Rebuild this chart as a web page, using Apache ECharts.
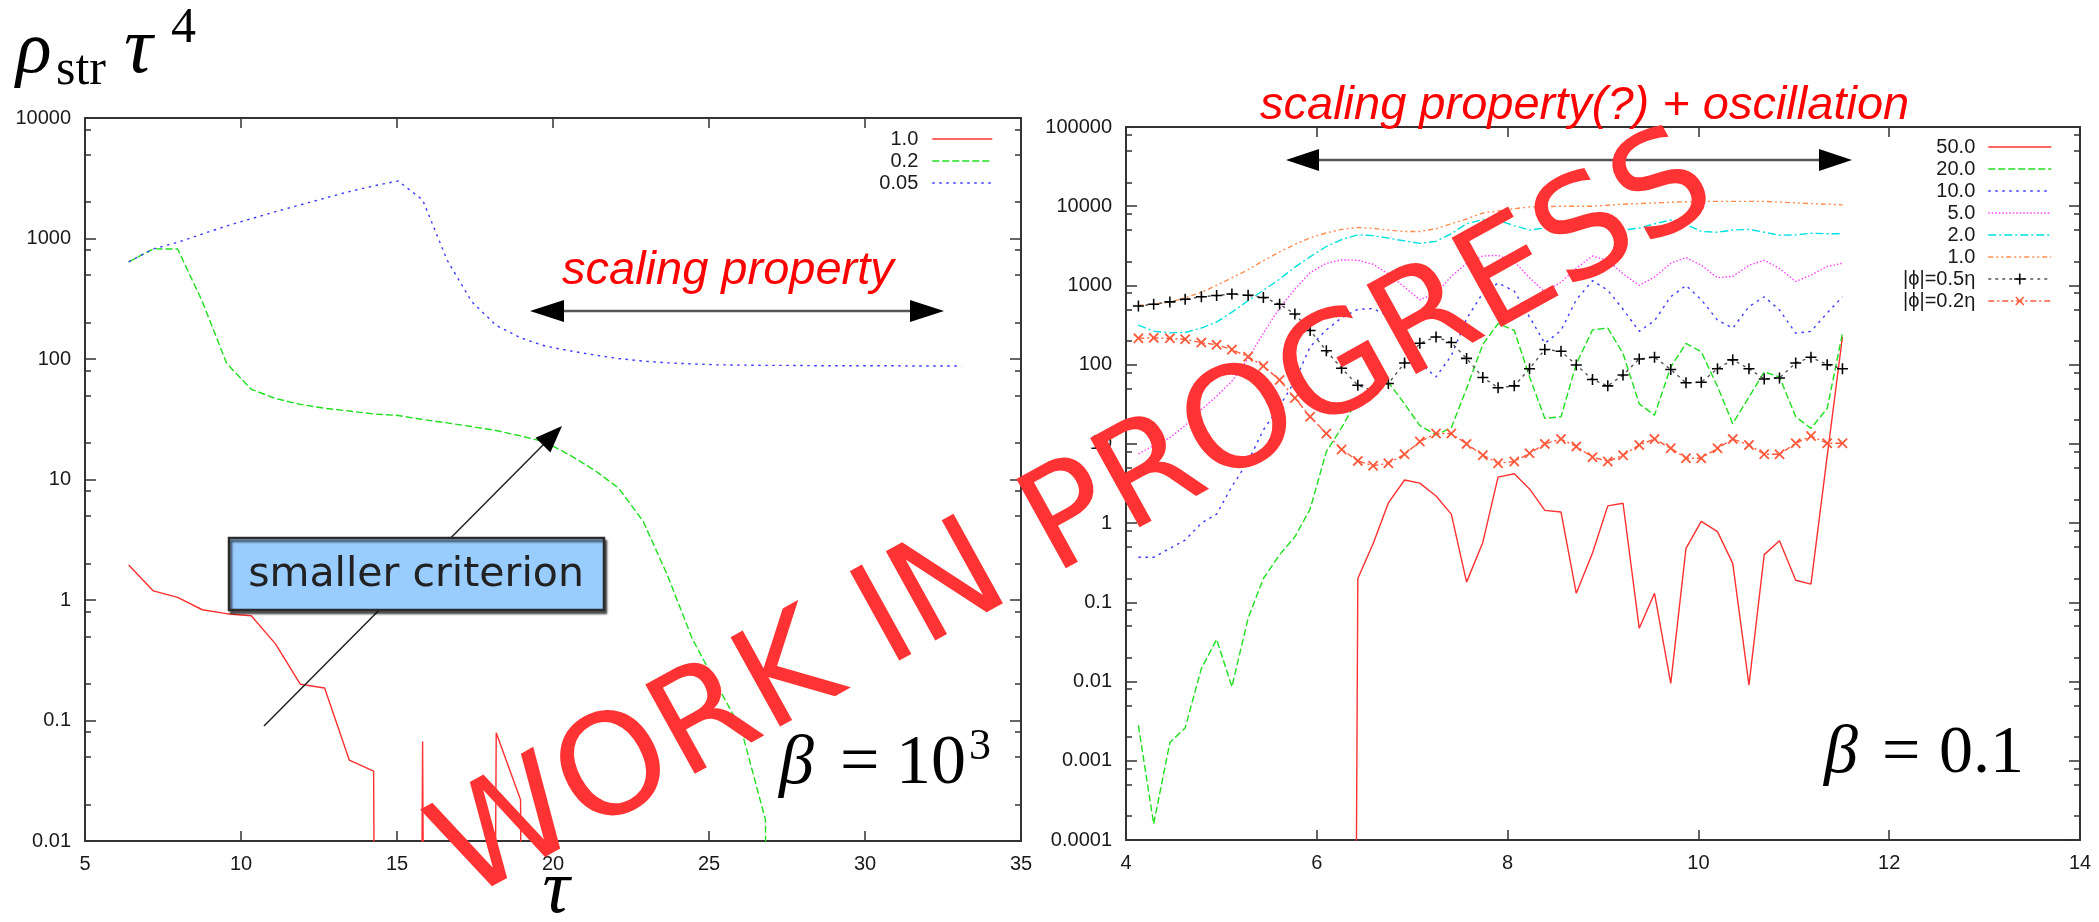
<!DOCTYPE html>
<html>
<head>
<meta charset="utf-8">
<script src="https://cdn.jsdelivr.net/npm/echarts@6/dist/echarts.min.js"></script>
<style>
html, body { margin: 0; padding: 0; background: #ffffff; }
#chart { width: 2099px; height: 922px; }
</style>
</head>
<body>
<div id="chart"></div>
<script>
// ---------- left panel: beta = 10^3 ----------
const leftTau = [6.40, 7.19, 7.97, 8.76, 9.54, 10.33, 11.11, 11.90, 12.68, 13.47, 14.25, 15.04, 15.82, 16.61, 17.39,
  18.18, 18.96, 19.75, 20.53, 21.32, 22.10, 22.89, 23.67, 24.46, 25.24, 26.03, 26.81, 27.60, 28.38, 29.17, 29.95,
  30.74, 31.52, 32.31, 33.09];
// 1e-40 marks points that fall far below the plotted range
const leftCrit10 = [1.95, 1.19, 1.05, 0.83, 0.77, 0.74, 0.43, 0.20, 0.186, 0.047, 0.038, 1e-40, 0.067, 1e-40, 1e-40,
  0.079, 0.022, 1e-40];
const leftCrit02 = [641, 820, 818, 300, 92, 56, 47, 42, 39, 37, 35, 34, 31.5, 29.5, 27.5, 25.5, 23, 20.5, 16, 12, 8.5,
  4.5, 1.6, 0.48, 0.2, 0.085, 0.015, 1e-40];
const leftCrit005 = [641, 820, 930, 1090, 1270, 1460, 1670, 1900, 2160, 2450, 2730, 3000, 2090, 660, 300, 190, 150, 128,
  117, 108, 101, 96, 93, 91, 89.5, 89, 88.5, 88.5, 88, 88, 88, 88, 87.5, 87.5, 87.5];
const leftLegendNames = ['1.0', '0.2', '0.05'];
const leftXTicks = [5, 10, 15, 20, 25, 30, 35];
const leftYTicks = [0.01, 0.1, 1, 10, 100, 1000, 10000];
const leftYTickLabels = ['0.01', '0.1', '1', '10', '100', '1000', '10000'];
const leftYMinor = [0.02, 0.05, 0.08, 0.2, 0.5, 0.8, 2, 5, 8, 20, 50, 80, 200, 500, 800, 2000, 5000, 8000];

// ---------- right panel: beta = 0.1 ----------
const rightTau = [4.13, 4.29, 4.46, 4.62, 4.79, 4.95, 5.11, 5.28, 5.44, 5.61, 5.77, 5.93, 6.10, 6.26, 6.43, 6.59, 6.75,
  6.92, 7.08, 7.25, 7.41, 7.57, 7.74, 7.90, 8.07, 8.23, 8.39, 8.56, 8.72, 8.89, 9.05, 9.21, 9.38, 9.54, 9.71, 9.87,
  10.03, 10.20, 10.36, 10.53, 10.69, 10.85, 11.02, 11.18, 11.35, 11.51];
const right50 = [null, null, null, null, null, null, null, null, null, null, null, null, null, 1e-40, 0.2, 0.55, 1.8,
  3.5, 3.2, 2.2, 1.3, 0.18, 0.57, 3.8, 4.2, 2.7, 1.45, 1.38, 0.13, 0.42, 1.65, 1.78, 0.047, 0.13, 0.0095, 0.48, 1.05,
  0.78, 0.31, 0.009, 0.4, 0.6, 0.19, 0.17, 7, 225];
const right20 = [0.0028, 0.00016, 0.0017, 0.0026, 0.0146, 0.034, 0.0086, 0.063, 0.2, 0.4, 0.67, 1.5, 8, 16, 37, 52, 60,
  32, 17, 13, 16, 50, 180, 330, 270, 70, 21, 22, 102, 275, 290, 138, 32, 23, 93, 186, 145, 53, 18, 39, 81, 70, 22,
  15.7, 28, 250];
const right10 = [0.37, 0.37, 0.48, 0.61, 1.0, 1.3, 2.9, 6, 15, 30, 62, 168, 275, 390, 500, 510, 410, 220, 105, 70, 130,
  380, 800, 1070, 850, 400, 186, 270, 660, 1150, 870, 500, 263, 360, 720, 1000, 660, 365, 290, 540, 720, 490, 250, 263,
  450, 720];
const right5 = [7.5, 9.5, 12, 17, 27, 40, 62, 120, 250, 520, 900, 1450, 1900, 2100, 2080, 1850, 1400, 950, 660, 800,
  1300, 1900, 2350, 2400, 2000, 1250, 830, 1100, 1650, 2350, 2080, 1400, 1000, 1280, 1900, 2250, 1800, 1250, 1300,
  1800, 2080, 1640, 1120, 1350, 1740, 1900];
const right2 = [316, 265, 252, 255, 290, 345, 460, 640, 870, 1200, 1700, 2300, 3100, 3800, 4350, 4250, 3950, 3650, 3400,
  3600, 4500, 6000, 6800, 6600, 5700, 5000, 5300, 6300, 6700, 6100, 5400, 5000, 5300, 6000, 6700, 5900, 4800, 4700,
  5000, 5100, 4700, 4300, 4350, 4550, 4500, 4500];
const right1 = [560, 580, 615, 700, 820, 1000, 1250, 1580, 2050, 2650, 3300, 4000, 4600, 5100, 5400, 5250, 5000, 4800,
  4800, 5200, 6000, 6900, 8200, 8700, 9300, 9800, 9900, 10000, 10000, 10000, 10300, 10600, 10800, 11000, 11200, 11400,
  11500, 11500, 11500, 11500, 11500, 11300, 11000, 10800, 10600, 10400];
const rightPhi05 = [550, 580, 620, 670, 720, 745, 780, 750, 705, 580, 435, 270, 150, 90, 55, 47, 58, 105, 186, 224, 190,
  120, 69, 51, 54, 89, 155, 148, 99, 65, 54, 74, 118, 124, 87, 59, 60, 89, 115, 89, 66, 68, 105, 124, 100, 89];
const rightPhi02 = [215, 218, 215, 209, 190, 178, 155, 126, 96, 64, 38, 22, 13.5, 8.5, 6.1, 5.3, 5.7, 7.4, 10.7, 13.5,
  13.5, 10, 7.2, 5.7, 6, 7.6, 10, 11.5, 9.3, 6.8, 6, 7.2, 9.7, 11.5, 8.8, 6.6, 6.6, 8.8, 11.5, 9.7, 7.4, 7.4, 10.2,
  12.6, 10.2, 10.2];
const rightLegendNames = ['50.0', '20.0', '10.0', '5.0', '2.0', '1.0', '|ϕ|=0.5η', '|ϕ|=0.2η'];
const rightMarkerNames = ['|ϕ|=0.5η', '|ϕ|=0.2η'];
const rightXTicks = [4, 6, 8, 10, 12, 14];
const rightYTicks = [0.0001, 0.001, 0.01, 0.1, 1, 10, 100, 1000, 10000, 100000];
const rightYTickLabels = ['0.0001', '0.001', '0.01', '0.1', '1', '10', '100', '1000', '10000', '100000'];
const rightYMinor = [0.0002, 0.0005, 0.0008, 0.002, 0.005, 0.008, 0.02, 0.05, 0.08, 0.2, 0.5, 0.8, 2, 5, 8, 20, 50, 80,
  200, 500, 800, 2000, 5000, 8000, 20000, 50000, 80000];

// ---------- styling helpers ----------
const AXIS = '#333333';
const LABEL_FONT = { color: '#1a1a1a', fontFamily: 'Liberation Sans', fontSize: 20 };
const PLUS = 'path://M4.3,0H5.7V4.3H10V5.7H5.7V10H4.3V5.7H0V4.3H4.3Z';

function xAxisPair(gridIndex, ticks) {
  const base = {
    gridIndex, type: 'value', min: ticks[0], max: ticks[ticks.length - 1], interval: ticks[1] - ticks[0],
    axisLine: { show: true, onZero: false, lineStyle: { color: AXIS, width: 2 } },
    axisTick: { show: true, inside: true, length: 10, lineStyle: { color: AXIS, width: 1.5 } },
    splitLine: { show: false }
  };
  return [
    Object.assign({}, base, { position: 'bottom',
      axisLabel: Object.assign({ margin: 13, formatter: v => String(v) }, LABEL_FONT) }),
    Object.assign({}, base, { position: 'top', axisLabel: { show: false } })
  ];
}

function yAxisSet(gridIndex, ticks, labels, minor) {
  const lo = Math.log10(ticks[0]), hi = Math.log10(ticks[ticks.length - 1]);
  const logTicks = ticks.map(Math.log10), logMinor = minor.map(Math.log10);
  const deco = (position, values, length, showLine) => ({
    gridIndex, type: 'value', min: lo, max: hi, position,
    axisLine: { show: showLine, onZero: false, lineStyle: { color: AXIS, width: 2 } },
    axisTick: { show: true, inside: true, length, customValues: values, lineStyle: { color: AXIS, width: 1.5 } },
    axisLabel: { show: false }, splitLine: { show: false }
  });
  return [
    {
      gridIndex, type: 'log', logBase: 10, min: ticks[0], max: ticks[ticks.length - 1],
      splitNumber: ticks.length - 1, position: 'left',
      axisLine: { show: true, onZero: false, lineStyle: { color: AXIS, width: 2 } },
      axisTick: { show: true, inside: true, length: 11, lineStyle: { color: AXIS, width: 1.5 } },
      axisLabel: Object.assign({
        margin: 14,
        formatter: v => {
          const i = ticks.findIndex(t => Math.abs(Math.log10(t) - Math.log10(v)) < 1e-6);
          return i >= 0 ? labels[i] : '';
        }
      }, LABEL_FONT),
      splitLine: { show: false }, minorTick: { show: false }
    },
    deco('left', logMinor, 6, false),
    deco('right', logTicks, 11, true),
    deco('right', logMinor, 6, false)
  ];
}

function curve(name, xs, ys, xi, yi, color, dash, extra) {
  return Object.assign({
    type: 'line', name, xAxisIndex: xi, yAxisIndex: yi,
    data: ys.map((v, i) => [xs[i], v]),
    symbol: 'none', clip: true, silent: true,
    lineStyle: { color, width: 1.4, type: dash },
    itemStyle: { color }
  }, extra || {});
}

// ---------- text / annotation helpers ----------
function tex(x, base, text, size, opt) {
  opt = opt || {};
  const k = opt.k !== undefined ? opt.k : 0.34;
  return {
    type: 'text', x, y: base - k * size, z: opt.z || 60, silent: true,
    style: {
      text, fontFamily: opt.family || 'Liberation Serif', fontSize: size,
      fontStyle: opt.italic ? 'italic' : 'normal', fill: opt.color || '#000000',
      align: opt.align || 'left', verticalAlign: 'middle'
    }
  };
}
function seg(x1, y1, x2, y2, color, width, z) {
  return { type: 'line', z: z || 40, silent: true, shape: { x1, y1, x2, y2 }, style: { stroke: color, lineWidth: width } };
}
function head(tip, from, len, half, z) {
  const dx = tip[0] - from[0], dy = tip[1] - from[1], d = Math.hypot(dx, dy);
  const ux = dx / d, uy = dy / d, bx = tip[0] - ux * len, by = tip[1] - uy * len;
  return {
    type: 'polygon', z: z || 41, silent: true,
    shape: { points: [tip, [bx - uy * half, by + ux * half], [bx + uy * half, by - ux * half]] },
    style: { fill: '#000000' }
  };
}

const graphics = [
  // vertical-axis title  rho_str tau^4
  tex(16, 78, 'ρ', 74, { italic: true }),
  tex(56, 88, 'str', 50),
  tex(124, 78, 'τ', 80, { italic: true }),
  tex(171, 46, '4', 50),
  // horizontal-axis title
  tex(556, 918, 'τ', 76, { italic: true, align: 'center' }),
  // beta labels
  tex(779, 788, 'β', 70, { italic: true }),
  tex(840, 788, '=', 70),
  tex(966, 788, '10', 70, { align: 'right' }),
  tex(969, 762, '3', 44),
  tex(1824, 777, 'β', 68, { italic: true }),
  tex(1882, 777, '=', 68),
  tex(2024, 777, '0.1', 68, { align: 'right' }),
  // regime captions
  tex(562, 287, 'scaling property', 47, { family: 'Liberation Sans', italic: true, color: '#ff0000' }),
  tex(1260, 122, 'scaling property(?) + oscillation', 47, { family: 'Liberation Sans', italic: true, color: '#ff0000' }),
  // double arrows
  seg(548, 311, 926, 311, '#555555', 2.5),
  head([530, 311], [944, 311], 34, 11),
  head([944, 311], [530, 311], 34, 11),
  seg(1304, 160, 1834, 160, '#555555', 2.5),
  head([1286, 160], [1852, 160], 33, 11),
  head([1852, 160], [1286, 160], 33, 11),
  // criterion callout
  seg(264, 726, 549, 439, '#222222', 1.5, 40),
  head([562, 426], [264, 726], 27, 10.5, 41),
  {
    type: 'rect', z: 50, silent: true, shape: { x: 229, y: 538, width: 375, height: 72 },
    style: { fill: '#99ccff', stroke: '#2b2b2b', lineWidth: 2.5,
      shadowColor: 'rgba(0,0,0,0.6)', shadowOffsetX: 2, shadowOffsetY: 3, shadowBlur: 2 }
  },
  tex(416, 590, 'smaller criterion', 41, { family: 'DejaVu Sans', color: '#222222', align: 'center', k: 0.35, z: 70 }),
  // banner
  {
    type: 'text', x: 1076, y: 521, rotation: 29 * Math.PI / 180, z: 200, silent: true,
    style: { text: 'WORK IN PROGRESS', fontFamily: 'DejaVu Sans', fontSize: 140, fill: '#ff3333',
      align: 'center', verticalAlign: 'middle' }
  }
];

// series names carry a panel prefix; the legend shows only the part after '#'
const L = n => 'L#' + n, R = n => 'R#' + n;
// plain curves show only their line sample, marker curves keep their marker
const legendItem = (name, withMarker) => withMarker ? { name } : { name, itemStyle: { opacity: 0 } };
const legendBase = {
  orient: 'vertical', align: 'right', padding: 0, itemHeight: 14, itemGap: 2,
  selectedMode: false, formatter: n => n.slice(n.indexOf('#') + 1),
  lineStyle: { width: 1.5 },
  textStyle: { color: '#1a1a1a', fontFamily: 'Liberation Sans', fontSize: 20, lineHeight: 20, padding: [0, 9, 0, 0] }
};

const option = {
  animation: false,
  backgroundColor: '#ffffff',
  textStyle: { fontFamily: 'Liberation Sans' },
  grid: [
    { left: 85, top: 118, width: 936, height: 723, outerBoundsMode: 'none' },
    { left: 1126, top: 127, width: 954, height: 713, outerBoundsMode: 'none' }
  ],
  xAxis: [].concat(xAxisPair(0, leftXTicks), xAxisPair(1, rightXTicks)),
  yAxis: [].concat(yAxisSet(0, leftYTicks, leftYTickLabels, leftYMinor),
                   yAxisSet(1, rightYTicks, rightYTickLabels, rightYMinor)),
  legend: [
    Object.assign({}, legendBase, { right: 1106, top: 129, itemWidth: 60,
      data: leftLegendNames.map(n => legendItem(L(n), false)) }),
    Object.assign({}, legendBase, { right: 47, top: 137, itemWidth: 63,
      data: rightLegendNames.map(n => legendItem(R(n), rightMarkerNames.includes(n))),
      textStyle: Object.assign({}, legendBase.textStyle, { padding: [0, 8, 0, 0] }) })
  ],
  series: [
    curve(L('1.0'), leftTau, leftCrit10, 0, 0, '#ff3030', 'solid'),
    curve(L('0.2'), leftTau, leftCrit02, 0, 0, '#1fdf1f', [7, 3]),
    curve(L('0.05'), leftTau, leftCrit005, 0, 0, '#3a3aff', [2.5, 4.5]),
    curve(R('50.0'), rightTau, right50, 2, 4, '#ff3030', 'solid'),
    curve(R('20.0'), rightTau, right20, 2, 4, '#1fdf1f', [7, 3]),
    curve(R('10.0'), rightTau, right10, 2, 4, '#3a3aff', [2.5, 4.5]),
    curve(R('5.0'), rightTau, right5, 2, 4, '#ff3cff', [1.5, 2]),
    curve(R('2.0'), rightTau, right2, 2, 4, '#00e0e0', [8, 3, 2, 3]),
    curve(R('1.0'), rightTau, right1, 2, 4, '#ff8c4d', [5, 3, 2, 3, 2, 3]),
    curve(R('|ϕ|=0.5η'), rightTau, rightPhi05, 2, 4, '#555555', [3, 4], {
      symbol: PLUS, symbolSize: 11, showSymbol: true, itemStyle: { color: '#000000' }
    }),
    curve(R('|ϕ|=0.2η'), rightTau, rightPhi02, 2, 4, '#ff5a3c', [6, 3, 2, 3], {
      symbol: PLUS, symbolSize: 13, symbolRotate: 45, showSymbol: true, itemStyle: { color: '#ff5a3c' }
    })
  ],
  graphic: { elements: graphics }
};

const chart = echarts.init(document.getElementById('chart'), null, { renderer: 'canvas' });
chart.setOption(option);
</script>
</body>
</html>
